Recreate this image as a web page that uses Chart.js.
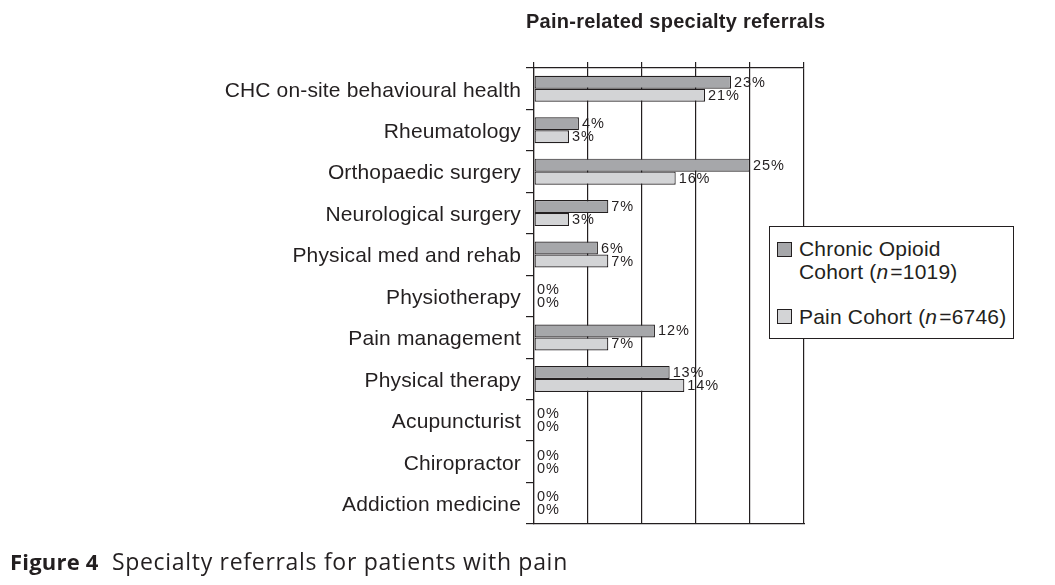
<!DOCTYPE html>
<html>
<head>
<meta charset="utf-8">
<script src="https://cdn.jsdelivr.net/npm/chart.js@4.4.1/dist/chart.umd.min.js"></script>
<style>
  body { margin: 0; background: #fff; }
  #wrap { position: relative; width: 1055px; height: 585px; overflow: hidden; }
  #chart { position: absolute; left: 0; top: 0; }
  .txt { position: absolute; white-space: nowrap; color: #231f20; font-family: "Liberation Sans", Arial, sans-serif; }
  #title { left: 526px; top: 11px; font-size: 20px; line-height: 20px; font-weight: bold; letter-spacing: 0.25px; }
  #legend { position: absolute; left: 769px; top: 226px; width: 243px; height: 111px; border: 1.2px solid #231f20; background: #fff; }
  .sw { position: absolute; width: 13px; height: 13px; border: 1px solid #231f20; }
  .lg { font-size: 21px; line-height: 21px; letter-spacing: 0.2px; }
  #caption { left: 10px; top: 549px; font-family: "Open Sans", sans-serif; font-size: 23px; line-height: 25px; letter-spacing: 0.7px; }
  #caption b { font-size: 22px; letter-spacing: 0.2px; }
</style>
</head>
<body>
<div id="wrap">
  <canvas id="chart" width="1055" height="585"></canvas>
  <div id="title" class="txt">Pain-related specialty referrals</div>
  <div id="legend">
    <div class="sw" style="left:7px; top:15px; background:#a6a7aa"></div>
    <div class="txt lg" style="left:29px; top:11px">Chronic Opioid</div>
    <div class="txt lg" style="left:29px; top:34px">Cohort (<i>n</i>&#8202;=1019)</div>
    <div class="sw" style="left:7px; top:82px; background:#d3d4d6"></div>
    <div class="txt lg" style="left:29px; top:79px">Pain Cohort (<i>n</i>&#8202;=6746)</div>
  </div>
  <div id="caption" class="txt"><b>Figure 4</b>&nbsp; Specialty referrals for patients with pain</div>
</div>
<script>
// categorias e valores (comprimento das barras, texto = rótulo impresso)
const categories = [
  "CHC on-site behavioural health", "Rheumatology", "Orthopaedic surgery",
  "Neurological surgery", "Physical med and rehab", "Physiotherapy",
  "Pain management", "Physical therapy", "Acupuncturist", "Chiropractor",
  "Addiction medicine"
];
const opioidBar = [22.8, 5.2, 25.0, 8.6, 7.4, 0, 14.0, 15.7, 0, 0, 0];
const painBar   = [19.8, 4.05, 16.4, 4.05, 8.6, 0, 8.6, 17.4, 0, 0, 0];
const opioidText = ["23%", "4%", "25%", "7%", "6%", "0%", "12%", "13%", "0%", "0%", "0%"];
const painText   = ["21%", "3%", "16%", "3%", "7%", "0%", "7%", "14%", "0%", "0%", "0%"];
const xTicks = [0, 6.25, 12.5, 18.75, 25, 31.25];

const ink = "#231f20";

// rótulos de porcentagem ao lado das barras
const barLabels = {
  id: "barLabels",
  afterDatasetsDraw(chart) {
    const ctx = chart.ctx;
    ctx.save();
    ctx.font = "14.5px 'Liberation Sans', Arial, sans-serif";
    ctx.letterSpacing = "0.9px";
    ctx.fillStyle = ink;
    ctx.textBaseline = "middle";
    ctx.textAlign = "left";
    chart.data.datasets.forEach((ds, i) => {
      chart.getDatasetMeta(i).data.forEach((bar, j) => {
        ctx.fillText(ds.texts[j], bar.x + 3, bar.y + 0.5);
      });
    });
    ctx.restore();
  }
};

const spacing = {
  id: "spacing",
  beforeDraw(chart) { chart.ctx.letterSpacing = "0.15px"; }
};

new Chart(document.getElementById("chart"), {
  type: "bar",
  data: {
    labels: categories,
    datasets: [{
      label: "Chronic Opioid Cohort (n=1019)",
      data: opioidBar,
      texts: opioidText,
      backgroundColor: "#a6a7aa",
      borderColor: ink,
      borderWidth: 1.2,
      borderSkipped: false
    }, {
      label: "Pain Cohort (n=6746)",
      data: painBar,
      texts: painText,
      backgroundColor: "#d3d4d6",
      borderColor: ink,
      borderWidth: 1.2,
      borderSkipped: false
    }]
  },
  options: {
    indexAxis: "y",
    responsive: false,
    animation: false,
    events: [],
    layout: { padding: { left: 0, top: 0, right: 251, bottom: 61 } },
    datasets: { bar: { categoryPercentage: 0.627, barPercentage: 1.0 } },
    plugins: { legend: { display: false }, tooltip: { enabled: false } },
    scales: {
      x: {
        position: "top",
        min: 0,
        max: 31.25,
        afterBuildTicks: s => { s.ticks = xTicks.map(v => ({ value: v })); },
        afterFit: s => { s.height = 68; },
        ticks: { display: false },
        grid: { color: ink, lineWidth: 1.2, tickLength: 6 },
        border: { display: true, color: ink, width: 1.2 }
      },
      x2: {
        position: "bottom",
        type: "linear",
        min: 0,
        max: 31.25,
        afterFit: s => { s.height = 0; },
        ticks: { display: false },
        grid: { display: false, drawTicks: false },
        border: { display: true, color: ink, width: 1.2 }
      },
      y: {
        position: "left",
        afterFit: s => { s.width = 534; },
        ticks: {
          color: ink,
          padding: 5,
          labelOffset: 2,
          font: { family: "'Liberation Sans', Arial, sans-serif", size: 21 }
        },
        grid: { offset: true, drawOnChartArea: false, color: ink, lineWidth: 1.2, tickLength: 8 },
        border: { display: true, color: ink, width: 1.2 }
      }
    }
  },
  plugins: [spacing, barLabels]
});
</script>
</body>
</html>
